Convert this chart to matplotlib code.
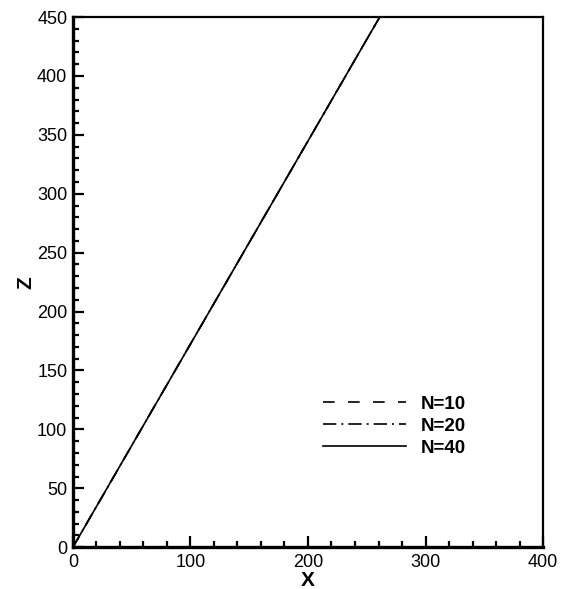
import matplotlib
matplotlib.use("Agg")
import matplotlib.pyplot as plt
from matplotlib.ticker import MultipleLocator

plt.rcParams['font.family'] = ['Liberation Sans', 'DejaVu Sans']

# profile height Z against X for three grid sizes
z_vals = [0, 50, 100, 150, 200, 250, 300, 350, 400, 450]
x_n10 = [0, 29, 58, 87, 116, 145, 174, 203, 232, 261]
x_n20 = [0, 29, 58, 87, 116, 145, 174, 203, 232, 261]
x_n40 = [0, 29, 58, 87, 116, 145, 174, 203, 232, 261]

fig = plt.figure(figsize=(5.61, 5.89), dpi=100)
ax = fig.add_axes([0.130, 0.071, 0.838, 0.900])

ax.plot(x_n10, z_vals, color='k', lw=1.2, ls=(0, (7, 8)), label='N=10')
ax.plot(x_n20, z_vals, color='k', lw=1.2, ls=(0, (8, 3, 1.2, 3)), label='N=20')
ax.plot(x_n40, z_vals, color='k', lw=1.2, ls='-', label='N=40')

ax.set_xlim(0, 400)
ax.set_ylim(0, 450)
ax.xaxis.set_major_locator(MultipleLocator(100))
ax.xaxis.set_minor_locator(MultipleLocator(20))
ax.yaxis.set_major_locator(MultipleLocator(50))
ax.yaxis.set_minor_locator(MultipleLocator(10))

for s in ax.spines.values():
    s.set_linewidth(1.6)
ax.spines['left'].set_linewidth(2.4)
ax.spines['bottom'].set_linewidth(2.4)

ax.tick_params(which='both', direction='in', top=False, right=False, width=1.6)
ax.tick_params(which='major', length=8, labelsize=13)
ax.tick_params(axis='x', which='major', pad=5)
ax.tick_params(axis='y', which='major', pad=4)
ax.tick_params(which='minor', length=4)

ax.set_xlabel('X', fontsize=15, fontweight='bold', labelpad=0)
ax.set_ylabel('Z', fontsize=15, fontweight='bold', labelpad=1)

ax.legend(loc='upper left', bbox_to_anchor=(0.497, 0.318), frameon=False,
          handlelength=4.4, handletextpad=0.8, labelspacing=0.27,
          prop={'size': 13.5, 'weight': 'bold'})

fig.savefig('out.png', dpi=100)
